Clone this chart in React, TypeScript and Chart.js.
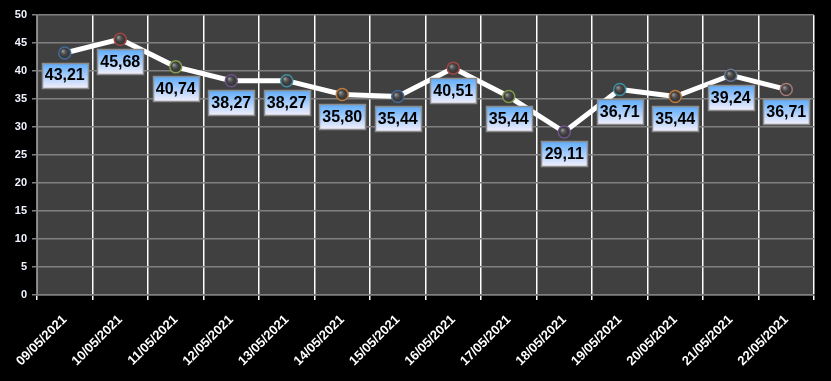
import React, { useEffect, useRef } from "react";
import { Chart, registerables } from "chart.js";

Chart.register(...registerables);

const categories = [
  "09/05/2021", "10/05/2021", "11/05/2021", "12/05/2021", "13/05/2021", "14/05/2021", "15/05/2021",
  "16/05/2021", "17/05/2021", "18/05/2021", "19/05/2021", "20/05/2021", "21/05/2021", "22/05/2021",
];
const values = [43.21, 45.68, 40.74, 38.27, 38.27, 35.8, 35.44, 40.51, 35.44, 29.11, 36.71, 35.44, 39.24, 36.71];
const pointRims = [
  "#3f6a9e", "#a04542", "#819c4b", "#6b5488", "#3f8fa5", "#c07a3a", "#3f6a9e",
  "#a04542", "#819c4b", "#6b5488", "#3f8fa5", "#c07a3a", "#6a7894", "#a67a78",
];
const yMin = 0;
const yMax = 50;
const yStep = 5;

const fmt = (v: number) => v.toFixed(2).replace(".", ",");

const bgPlugin = {
  id: "plotBg",
  beforeDraw(chart: any) {
    const { ctx, chartArea } = chart;
    ctx.save();
    ctx.fillStyle = "#000000";
    ctx.fillRect(0, 0, chart.width, chart.height);
    ctx.fillStyle = "#404040";
    ctx.fillRect(chartArea.left, chartArea.top, chartArea.right - chartArea.left, chartArea.bottom - chartArea.top);
    ctx.restore();
  },
};

const labelPlugin = {
  id: "boxLabels",
  afterDatasetsDraw(chart: any) {
    const { ctx } = chart;
    const meta = chart.getDatasetMeta(0);
    ctx.save();
    meta.data.forEach((pt: any, i: number) => {
      const g0 = ctx.createRadialGradient(pt.x - 2, pt.y - 2, 0.5, pt.x, pt.y, 6);
      g0.addColorStop(0, "rgba(190,190,190,0.7)");
      g0.addColorStop(0.5, "rgba(90,90,90,0.3)");
      g0.addColorStop(1, "rgba(0,0,0,0)");
      ctx.fillStyle = g0;
      ctx.beginPath();
      ctx.arc(pt.x, pt.y, 5, 0, Math.PI * 2);
      ctx.fill();

      const text = fmt(values[i]);
      ctx.font = "bold 16px 'Liberation Sans', Arial, sans-serif";
      const w = 46;
      const h = 25;
      const cx = pt.x;
      const cy = pt.y + 22;
      const x0 = Math.round(cx - w / 2) + 0.5;
      const y0 = Math.round(cy - h / 2) + 0.5;
      const g = ctx.createLinearGradient(0, y0, 0, y0 + h);
      g.addColorStop(0, "#5eabfa");
      g.addColorStop(1, "#f4f0fb");
      ctx.fillStyle = g;
      ctx.fillRect(x0, y0, w, h);
      ctx.strokeStyle = "#8c8c8c";
      ctx.lineWidth = 1.5;
      ctx.strokeRect(x0, y0, w, h);
      ctx.fillStyle = "#000000";
      ctx.textAlign = "center";
      ctx.textBaseline = "middle";
      ctx.fillText(text, cx, cy + 1);
    });
    ctx.restore();
  },
};

export default function App() {
  const ref = useRef<HTMLCanvasElement>(null);
  useEffect(() => {
    document.body.style.margin = "0";
    const chart = new Chart(ref.current!, {
      type: "line",
      data: {
        labels: categories,
        datasets: [
          {
            data: values,
            borderColor: "#ffffff",
            borderWidth: 5,
            tension: 0,
            pointRadius: 6,
            pointHoverRadius: 6,
            pointBackgroundColor: "#3c3c3c",
            pointBorderColor: pointRims,
            pointBorderWidth: 1.5,
          },
        ],
      },
      options: {
        responsive: false,
        animation: false,
        layout: { padding: { top: 15, right: 17, left: 0, bottom: 0 } },
        plugins: { legend: { display: false }, tooltip: { enabled: false } },
        scales: {
          x: {
            offset: true,
            grid: {
              offset: true,
              color: "#ffffff",
              lineWidth: 1.5,
              tickLength: 5,
              drawOnChartArea: true,
            },
            border: { color: "#808080", width: 1.5 },
            ticks: {
              color: "#ffffff",
              font: { family: "'Liberation Sans', Arial, sans-serif", weight: "bold", size: 13 },
              maxRotation: 45,
              minRotation: 45,
              autoSkip: false,
              padding: 12,
            },
            afterFit(scale: any) {
              scale.height = 86;
            },
          },
          y: {
            min: yMin,
            max: yMax,
            grid: { color: "#808080", lineWidth: 1.5, tickLength: 5 },
            border: { color: "#808080", width: 1.5 },
            ticks: {
              stepSize: yStep,
              color: "#f0f4ff",
              font: { family: "'Liberation Sans', Arial, sans-serif", weight: "bold", size: 11 },
              padding: 5,
            },
            afterFit(scale: any) {
              scale.width = 37;
            },
          },
        },
      },
      plugins: [bgPlugin, labelPlugin],
    } as any);
    return () => chart.destroy();
  }, []);
  return <canvas ref={ref} width={831} height={381} style={{ display: "block" }} />;
}
